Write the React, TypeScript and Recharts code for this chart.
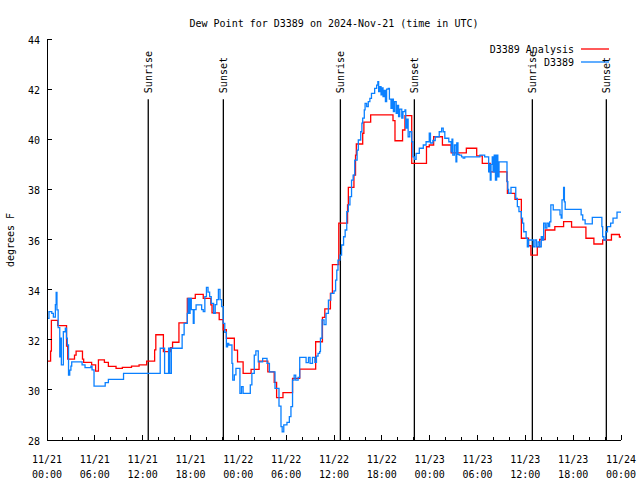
import React from 'react';
import { LineChart, Line, XAxis, YAxis, ReferenceLine, Customized } from 'recharts';

const FONT = '"DejaVu Sans Mono", "Liberation Mono", monospace';
const RED = '#ff0000';
const BLUE = '#0a80ff';

const redHours = [
  0, 0.45, 0.55, 1.35, 2.45, 2.6, 3.45, 3.65, 4.45, 4.6, 5.6, 6.1, 6.45, 7.2, 7.7, 8.66, 9.45, 10.6, 11.55,
  12.5, 13.5, 13.65, 14.6, 15.5, 15.75, 16.55, 17.6, 18.6, 19.6, 20.55, 20.7, 21.6, 22.1, 22.5, 23.5, 23.9,
  24.6, 25.6, 26.6, 27.7, 28.5, 28.8, 29.6, 30.8, 31.7, 33.7, 34.55, 34.85, 35.55, 35.8, 36.6, 37.7, 37.8,
  38.5, 38.7, 38.8, 39.6, 39.75, 40.6, 43.4, 43.65, 44.6, 44.9, 45.75, 47.6, 47.95, 48.5, 49.6, 50.7, 52.6,
  53.9, 54.6, 55.6, 57.7, 57.75, 58.7, 59.5, 60.4, 60.7, 61.5, 61.8, 62.5, 63.7, 64.8, 65.8, 67.6, 68.6,
  69.7, 70.8, 71.8, 72,
];
const redValues = [
  31.15, 31.55, 32.77, 32.56, 31.75, 31.23, 31.39, 31.55, 31.23, 31.1, 31.0, 30.75, 31.2, 31.1, 30.94, 30.86,
  30.9, 30.95, 31.0, 31.15, 31.6, 32.2, 31.53, 31.68, 31.9, 32.67, 33.65, 33.81, 33.65, 33.39, 33.07, 32.8,
  32.4, 32.06, 31.59, 31.12, 30.66, 30.82, 31.15, 30.72, 30.3, 29.69, 29.89, 30.46, 30.83, 31.92, 32.89,
  33.23, 33.85, 35.0, 36.65, 37.38, 38.08, 38.57, 39.37, 39.81, 40.24, 40.68, 40.97, 40.74, 39.94, 40.37,
  40.94, 39.04, 39.7, 39.77, 40.1, 39.77, 39.46, 39.64, 39.34, 39.04, 38.7, 38.33, 37.84, 37.6, 36.05,
  35.75, 35.38, 35.71, 36.0, 36.38, 36.51, 36.71, 36.49, 36.05, 35.82, 35.98, 36.2, 36.1, 36.1,
];

const blueHours = [
  0, 0.25, 0.6, 0.8, 1.05, 1.15, 1.25, 1.4, 1.6, 1.7, 1.8, 2.05, 2.3, 2.45, 2.55, 2.7, 2.85, 3.0, 3.1, 4.4,
  4.77, 5.5, 5.65, 5.9, 7.3, 7.7, 9.6, 14.2, 14.75, 15.25, 15.4, 15.6, 16.95, 17.2, 17.6, 17.7, 17.85, 17.95,
  18.1, 18.35, 18.45, 18.7, 19.4, 19.6, 19.8, 20.0, 20.2, 20.4, 20.6, 20.9, 21.1, 21.3, 21.5, 21.7, 21.9,
  22.1, 22.3, 22.5, 22.65, 22.8, 23.2, 23.3, 23.5, 23.7, 24.2, 24.4, 24.6, 25.3, 25.5, 25.7, 26.0, 26.2,
  26.5, 27.05, 27.6, 27.9, 28.6, 29.1, 29.35, 29.5, 29.7, 30.1, 30.4, 30.6, 30.8, 31.0, 31.2, 31.5, 31.7,
  32.2, 32.5, 32.8, 33.0, 33.3, 33.6, 33.8, 34.0, 34.2, 34.3, 34.5, 34.75, 35.0, 35.3, 35.6, 36.0, 36.2,
  36.35, 36.5, 36.75, 36.95, 37.2, 37.4, 37.6, 37.8, 38.0, 38.2, 38.4, 38.6, 38.9, 39.05, 39.35, 39.5, 39.6,
  39.8, 39.9, 40.1, 40.3, 40.5, 40.7, 41.1, 41.35, 41.5, 41.6, 41.75, 41.9, 42.0, 42.15, 42.3, 42.45, 42.6,
  42.8, 42.95, 43.15, 43.3, 43.45, 43.6, 43.8, 43.95, 44.1, 44.25, 44.5, 44.65, 44.9, 45.0, 45.15, 45.3,
  45.5, 45.75, 45.9, 46.1, 46.3, 46.7, 47.2, 47.55, 47.95, 48.1, 48.4, 48.7, 49.2, 49.5, 49.7, 49.9, 50.4,
  50.7, 50.8, 50.9, 51.1, 51.3, 51.4, 51.55, 51.7, 52.0, 52.2, 52.4, 54.3, 54.9, 55.4, 55.5, 55.6, 55.7,
  55.85, 55.95, 56.1, 56.25, 56.4, 56.55, 56.7, 57.6, 57.7, 57.8, 57.9, 58.2, 58.8, 59.0, 59.2, 59.5, 59.65,
  59.8, 60.1, 60.25, 60.4, 60.8, 61.0, 61.2, 61.4, 61.6, 61.8, 62.0, 62.15, 62.3, 62.5, 62.7, 62.9, 63.05,
  63.2, 63.5, 64.35, 64.5, 64.6, 64.8, 64.9, 65.0, 66.8, 67.0, 67.2, 67.5, 68.4, 69.6, 69.7, 69.85, 70.1,
  70.3, 70.7, 71.0, 71.5, 72,
];
const blueValues = [
  32.85, 33.12, 33.05, 32.9, 33.4, 33.89, 33.19, 32.48, 31.32, 32.06, 31.0, 32.32, 32.46, 32.06, 31.79, 30.59,
  30.79, 30.95, 31.12, 31.0, 30.89, 30.95, 30.8, 30.15, 30.29, 30.42, 30.66, 31.66, 30.66, 31.66, 30.66,
  31.66, 32.2, 32.65, 33.05, 33.65, 33.05, 33.65, 33.2, 32.65, 33.2, 33.39, 33.2, 33.12, 33.72, 34.09,
  33.9, 33.72, 33.45, 33.05, 33.4, 33.6, 34.01, 33.6, 33.32, 32.65, 32.3, 31.72, 31.85, 31.79, 31.06, 30.39,
  30.6, 30.86, 29.86, 30.13, 29.86, 29.86, 30.2, 30.66, 31.39, 31.56, 31.12, 31.26, 31.06, 30.72, 30.06,
  29.35, 28.53, 28.33, 28.6, 28.7, 28.93, 29.33, 30.39, 30.59, 30.39, 30.5, 31.3, 31.3, 31.09, 31.3, 31.06,
  31.3, 31.1, 31.35, 31.46, 31.53, 32.06, 32.79, 32.6, 33.05, 33.58, 33.85, 33.95, 34.38, 34.78, 35.18,
  35.38, 35.78, 36.11, 36.38, 37.11, 37.38, 37.71, 38.37, 38.57, 39.17, 39.57, 39.97, 40.3, 40.64, 40.84,
  41.17, 41.43, 41.3, 41.5, 41.63, 41.83, 42.03, 42.16, 42.3, 41.9, 42.1, 41.77, 42.05, 41.7, 41.95, 41.5,
  42.0, 42.03, 41.6, 41.23, 41.6, 41.1, 41.5, 41.03, 41.35, 40.9, 41.2, 40.84, 41.1, 41.17, 40.44, 40.8,
  40.1, 40.3, 39.9, 39.3, 39.2, 39.44, 39.64, 39.77, 39.9, 40.24, 39.85, 39.95, 40.1, 40.3, 40.44, 40.3,
  40.04, 39.9, 39.5, 40.0, 39.37, 39.77, 39.1, 39.85, 39.4, 39.37, 39.3, 39.25, 39.3, 39.37, 39.3, 38.7,
  39.0, 38.37, 39.0, 39.3, 38.7, 39.37, 38.37, 39.37, 38.5, 39.1, 39.1, 38.31, 38.0, 37.84, 38.08, 37.64,
  37.31, 37.11, 36.85, 36.65, 36.31, 36.05, 35.71, 35.98, 35.98, 35.71, 35.98, 35.71, 35.9, 35.71, 36.11,
  35.98, 36.65, 36.45, 36.65, 36.51, 36.7, 37.38, 37.18, 36.98, 36.85, 37.58, 38.08, 37.5, 37.2, 37.2,
  36.98, 36.78, 36.62, 36.88, 36.51, 36.11, 35.98, 36.31, 36.51, 36.65, 36.85, 37.09, 37.09,
];

const xTicks = [
  0, 2, 4, 6, 8, 10, 12, 14, 16, 18, 20, 22, 24, 26, 28, 30, 32, 34, 36, 38, 40, 42, 44, 46, 48, 50, 52,
  54, 56, 58, 60, 62, 64, 66, 68, 70, 72,
];
const xTickDates = ['11/21', '11/21', '11/21', '11/21', '11/22', '11/22', '11/22', '11/22', '11/23', '11/23', '11/23', '11/23', '11/24'];
const xTickTimes = ['00:00', '06:00', '12:00', '18:00', '00:00', '06:00', '12:00', '18:00', '00:00', '06:00', '12:00', '18:00', '00:00'];
const yTicks = [28, 30, 32, 34, 36, 38, 40, 42, 44];

const sunHours = [12.7, 22.12, 36.8, 46.08, 60.88, 70.16];
const sunLabels = ['Sunrise', 'Sunset', 'Sunrise', 'Sunset', 'Sunrise', 'Sunset'];

const redData = redHours.map((h, i) => ({ h, v: redValues[i] }));
const blueData = blueHours.map((h, i) => ({ h, v: blueValues[i] }));

const Y_MIN = 28;
const Y_MAX = 44;
const SUN_TOP = Y_MIN + 0.85 * (Y_MAX - Y_MIN);

const BottomTick = (props: any) => {
  const { x, y, payload } = props;
  const v = payload.value as number;
  const major = v % 6 === 0;
  const idx = v / 6;
  return (
    <g>
      <line x1={x} x2={x} y1={y} y2={y - (major ? 5 : 3)} stroke="#000" shapeRendering="crispEdges" />
      {major && (
        <text x={x} y={y + 23} textAnchor="middle" fontFamily={FONT} fontSize={10} fill="#000">
          {xTickDates[idx]}
        </text>
      )}
      {major && (
        <text x={x} y={y + 38} textAnchor="middle" fontFamily={FONT} fontSize={10} fill="#000">
          {xTickTimes[idx]}
        </text>
      )}
    </g>
  );
};

const TopTick = (props: any) => {
  const { x, y, payload } = props;
  const major = (payload.value as number) % 6 === 0;
  return <line x1={x} x2={x} y1={y} y2={y + (major ? 5 : 3)} stroke="#000" shapeRendering="crispEdges" />;
};

const LeftTick = (props: any) => {
  const { x, y, payload } = props;
  return (
    <g>
      <line x1={x} x2={x + 5} y1={y} y2={y} stroke="#000" shapeRendering="crispEdges" />
      <text x={x - 7} y={y + 5} textAnchor="end" fontFamily={FONT} fontSize={10} fill="#000">
        {payload.value}
      </text>
    </g>
  );
};

const RightTick = (props: any) => {
  const { x, y } = props;
  return <line x1={x} x2={x - 5} y1={y} y2={y} stroke="#000" shapeRendering="crispEdges" />;
};

const sunLabel = (name: string) => (props: any) => {
  const vb = props.viewBox || {};
  const x = vb.x ?? 0;
  const y = vb.y ?? 0;
  const hgt = vb.height ?? 0;
  const top = hgt < 0 ? y + hgt : y;
  return (
    <text
      transform={`translate(${x + 3.5},${top - 6}) rotate(-90)`}
      textAnchor="start"
      fontFamily={FONT}
      fontSize={10}
      fill="#000"
    >
      {name}
    </text>
  );
};

const Overlay = () => (
  <g fontFamily={FONT} fontSize={10} fill="#000">
    <text x={334} y={27} textAnchor="middle">Dew Point for D3389 on 2024-Nov-21 (time in UTC)</text>
    <text transform="translate(14,240) rotate(-90)" textAnchor="middle">degrees F</text>
    <text x={574} y={53} textAnchor="end">D3389 Analysis</text>
    <line x1={581} x2={609} y1={49} y2={49} stroke={RED} strokeWidth={1.3} />
    <text x={574} y={66} textAnchor="end">D3389</text>
    <line x1={581} x2={609} y1={62} y2={62} stroke={BLUE} strokeWidth={1.3} />
  </g>
);

export default function App() {
  return (
    <div style={{ position: 'absolute', left: 0, top: 0, width: 640, height: 480, background: '#fff' }}>
      <LineChart width={640} height={480} margin={{ top: 39, right: 19, bottom: 0, left: 0 }}>
        <XAxis
          xAxisId="b"
          dataKey="h"
          type="number"
          domain={[0, 72]}
          ticks={xTicks}
          interval={0}
          height={40}
          tickSize={0}
          tickMargin={0}
          tickLine={false}
          axisLine={{ stroke: '#000', shapeRendering: 'crispEdges' }}
          tick={<BottomTick />}
          allowDataOverflow
        />
        <XAxis
          xAxisId="t"
          orientation="top"
          dataKey="h"
          type="number"
          domain={[0, 72]}
          ticks={xTicks}
          interval={0}
          height={0}
          tickSize={0}
          tickMargin={0}
          tickLine={false}
          axisLine={{ stroke: '#000', shapeRendering: 'crispEdges' }}
          tick={<TopTick />}
          allowDataOverflow
        />
        <YAxis
          yAxisId="l"
          type="number"
          domain={[Y_MIN, Y_MAX]}
          ticks={yTicks}
          interval={0}
          width={47}
          tickSize={0}
          tickMargin={0}
          tickLine={false}
          axisLine={{ stroke: '#000', shapeRendering: 'crispEdges' }}
          tick={<LeftTick />}
          allowDataOverflow
        />
        <YAxis
          yAxisId="r"
          orientation="right"
          type="number"
          domain={[Y_MIN, Y_MAX]}
          ticks={yTicks}
          interval={0}
          width={0}
          tickSize={0}
          tickMargin={0}
          tickLine={false}
          axisLine={{ stroke: '#000', shapeRendering: 'crispEdges' }}
          tick={<RightTick />}
          allowDataOverflow
        />
        {sunHours.map((h, i) => (
          <ReferenceLine
            key={'sun' + i}
            xAxisId="b"
            yAxisId="l"
            segment={[{ x: h, y: Y_MIN }, { x: h, y: SUN_TOP }]}
            stroke="#000"
            strokeWidth={1.3}
            label={sunLabel(sunLabels[i])}
          />
        ))}
        <Line
          xAxisId="b"
          yAxisId="l"
          data={redData}
          dataKey="v"
          type="stepAfter"
          stroke={RED}
          strokeWidth={1.3}
          dot={false}
          activeDot={false}
          isAnimationActive={false}
        />
        <Line
          xAxisId="b"
          yAxisId="l"
          data={blueData}
          dataKey="v"
          type="stepAfter"
          stroke={BLUE}
          strokeWidth={1.3}
          dot={false}
          activeDot={false}
          isAnimationActive={false}
        />
        <Customized component={<Overlay />} />
      </LineChart>
    </div>
  );
}
